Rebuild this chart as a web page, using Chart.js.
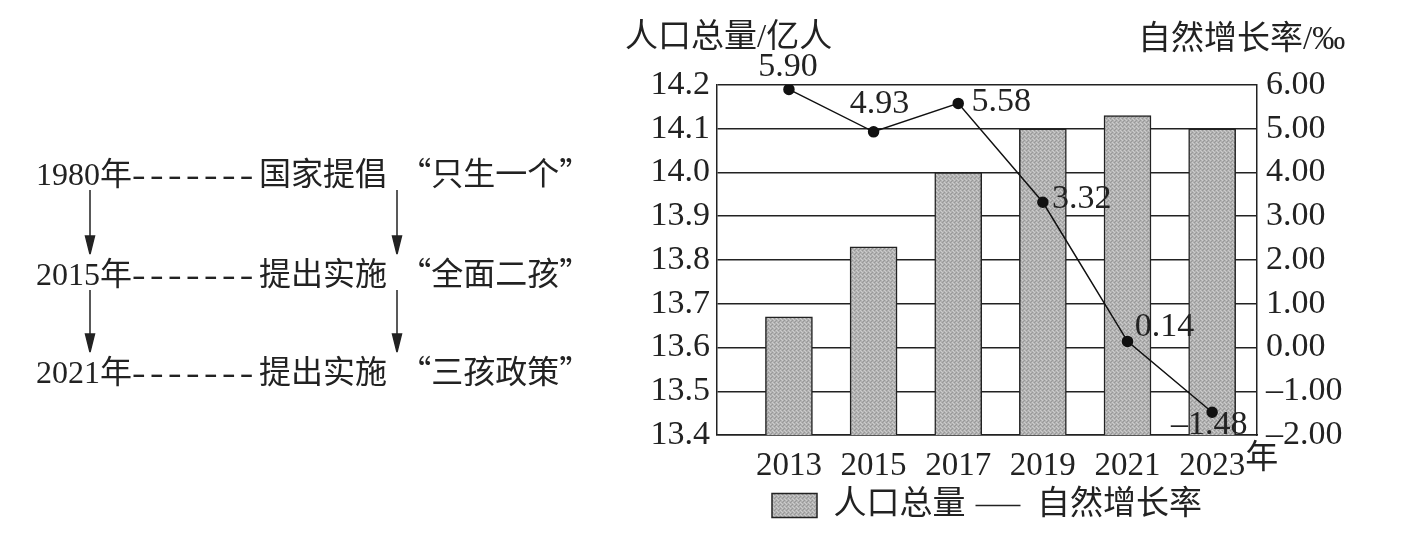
<!DOCTYPE html>
<html><head><meta charset="utf-8">
<script src="https://cdn.jsdelivr.net/npm/chart.js@4.4.0/dist/chart.umd.min.js"></script>
<style>
html,body{margin:0;padding:0;background:#fff;}
#wrap{position:relative;width:1416px;height:538px;overflow:hidden;background:#fff;}
#c{position:absolute;left:0;top:0;}
.ln{position:absolute;left:36px;font-size:32px;font-family:"Liberation Serif","Noto Sans CJK SC";color:#222;white-space:nowrap;line-height:40px;}
.dash{display:inline-block;letter-spacing:3.5px;transform:scaleX(1.27);transform-origin:left center;margin-right:28px;}
.q{font-family:"Noto Sans CJK SC";margin-left:12px;}
svg{position:absolute;left:0;top:0;}
</style></head>
<body><div id="wrap">
<canvas id="c" width="1416" height="538"></canvas>
<div class="ln" style="top:151px">1980年<span class="dash">-------</span>国家提倡<span class="q">“只生一个”</span></div>
<div class="ln" style="top:251px">2015年<span class="dash">-------</span>提出实施<span class="q">“全面二孩”</span></div>
<div class="ln" style="top:349px">2021年<span class="dash">-------</span>提出实施<span class="q">“三孩政策”</span></div>
<svg width="600" height="538">
  <g stroke="#222" stroke-width="1.5" fill="#222">
    <line x1="90" y1="190" x2="90" y2="240"/><polygon points="85.5,236 94.5,236 90,254"/>
    <line x1="397" y1="190" x2="397" y2="240"/><polygon points="392.5,236 401.5,236 397,254"/>
    <line x1="90" y1="290" x2="90" y2="338"/><polygon points="85.5,334 94.5,334 90,352"/>
    <line x1="397" y1="290" x2="397" y2="338"/><polygon points="392.5,334 401.5,334 397,352"/>
  </g>
</svg>
</div>
<script>
const years = ['2013', '2015', '2017', '2019', '2021', '2023'];
const population = [13.67, 13.83, 14.00, 14.10, 14.13, 14.10];
const growthRate = [5.90, 4.93, 5.58, 3.32, 0.14, -1.48];
const leftTicks = [13.4, 13.5, 13.6, 13.7, 13.8, 13.9, 14.0, 14.1, 14.2];
const rightTicks = [-2, -1, 0, 1, 2, 3, 4, 5, 6];
const seriesNames = ['人口总量', '自然增长率'];
const leftTitle = '人口总量/亿人';
const rightTitle = '自然增长率/‰';
const xUnit = '年';

const FONT = '"Liberation Serif", "Noto Sans CJK SC"';
const INK = '#222';
const canvas = document.getElementById('c');
const ctx = canvas.getContext('2d');

function makePattern() {
  const p = document.createElement('canvas');
  p.width = 4; p.height = 4;
  const g = p.getContext('2d');
  g.fillStyle = '#b2b2b2'; g.fillRect(0, 0, 4, 4);
  g.fillStyle = '#989898'; g.fillRect(0, 0, 1, 1); g.fillRect(2, 2, 1, 1); g.fillRect(3, 1, 1, 1);
  g.fillStyle = '#cccccc'; g.fillRect(2, 0, 1, 1); g.fillRect(0, 2, 1, 1); g.fillRect(1, 3, 1, 1);
  return ctx.createPattern(p, 'repeat');
}
const barFill = makePattern();

const labelOffsets = [[-1, -22], [6, -28], [43, -1], [39, -3], [37, -14], [-3, 13]];

const extras = {
  id: 'extras',
  afterDatasetsDraw(chart) {
    const c = chart.ctx;
    const meta = chart.getDatasetMeta(1);
    c.save();
    c.font = '34px ' + FONT;
    c.fillStyle = INK;
    c.textAlign = 'center';
    c.textBaseline = 'middle';
    meta.data.forEach((pt, i) => {
      const txt = growthRate[i].toFixed(2).replace('-', '–');
      c.fillText(txt, pt.x + labelOffsets[i][0], pt.y + labelOffsets[i][1]);
    });
    c.restore();
  },
  afterDraw(chart) {
    const c = chart.ctx;
    c.save();
    c.fillStyle = INK;
    c.textBaseline = 'middle';
    c.font = '33px ' + FONT;
    c.textAlign = 'left';
    c.fillText(leftTitle, 625, 38);
    c.fillText(rightTitle, 1138, 40);
    const xs = chart.scales.x;
    const last = years.length - 1;
    const w = c.measureText(years[last]).width;
    c.textBaseline = 'top';
    c.fillText(xUnit, xs.getPixelForValue(last) + w / 2, xs.top + 8);
    c.restore();
  }
};

new Chart(canvas, {
  type: 'bar',
  data: {
    datasets: [
      {
        type: 'bar',
        label: seriesNames[0],
        data: population.map((v, i) => ({ x: i, y: v })),
        yAxisID: 'y',
        backgroundColor: barFill,
        borderColor: INK,
        borderWidth: 1.5,
        barThickness: 47,
        order: 2
      },
      {
        type: 'line',
        label: seriesNames[1],
        data: growthRate.map((v, i) => ({ x: i, y: v })),
        yAxisID: 'y1',
        borderColor: '#111',
        borderWidth: 1.5,
        pointRadius: 5,
        pointBackgroundColor: '#111',
        pointBorderColor: '#111',
        tension: 0,
        order: 1
      }
    ]
  },
  options: {
    responsive: false,
    animation: false,
    layout: { padding: { left: 600, top: 85, right: 0, bottom: 6 } },
    scales: {
      x: {
        type: 'linear',
        offset: false,
        min: -0.85,
        max: 5.53,
        afterBuildTicks: s => { s.ticks = years.map((y, i) => ({ value: i })); },
        ticks: {
          callback: v => years[v],
          autoSkip: false,
          maxRotation: 0,
          font: { family: FONT, size: 33 },
          color: INK,
          padding: 4
        },
        grid: { display: false },
        border: { display: true, color: INK, width: 1.5 },
        afterFit: s => { s.height = 44; }
      },
      y: {
        position: 'left',
        min: 13.4,
        max: 14.2,
        afterBuildTicks: s => { s.ticks = leftTicks.map(v => ({ value: v })); },
        ticks: {
          callback: v => Number(v).toFixed(1),
          autoSkip: false,
          font: { family: FONT, size: 34 },
          color: INK,
          padding: 7
        },
        grid: { color: INK, lineWidth: 1.5, drawTicks: false },
        border: { display: true, color: INK, width: 1.5 },
        afterFit: s => { s.width = 117; }
      },
      y1: {
        position: 'right',
        min: -2,
        max: 6,
        afterBuildTicks: s => { s.ticks = rightTicks.map(v => ({ value: v })); },
        ticks: {
          callback: v => Number(v).toFixed(2).replace('-', '–'),
          autoSkip: false,
          font: { family: FONT, size: 34 },
          color: INK,
          padding: 9
        },
        grid: { display: false, drawTicks: false },
        border: { display: true, color: INK, width: 1.5 },
        afterFit: s => { s.width = 159; }
      }
    },
    plugins: {
      tooltip: { enabled: false },
      legend: {
        position: 'bottom',
        fullSize: false,
        labels: {
          usePointStyle: true,
          pointStyleWidth: 45,
          boxHeight: 24,
          padding: 10,
          color: INK,
          font: { family: FONT, size: 33 },
          sort: (a, b) => a.datasetIndex - b.datasetIndex,
          generateLabels: chart => {
            const items = Chart.defaults.plugins.legend.labels.generateLabels(chart);
            items.forEach(it => {
              if (it.datasetIndex === 0) {
                it.pointStyle = 'rect';
                it.fillStyle = barFill;
                it.strokeStyle = INK;
                it.lineWidth = 1.5;
              } else {
                it.pointStyle = 'line';
                it.strokeStyle = INK;
                it.lineWidth = 1.5;
              }
            });
            return items;
          }
        }
      }
    }
  },
  plugins: [extras]
});
</script>
</body></html>
